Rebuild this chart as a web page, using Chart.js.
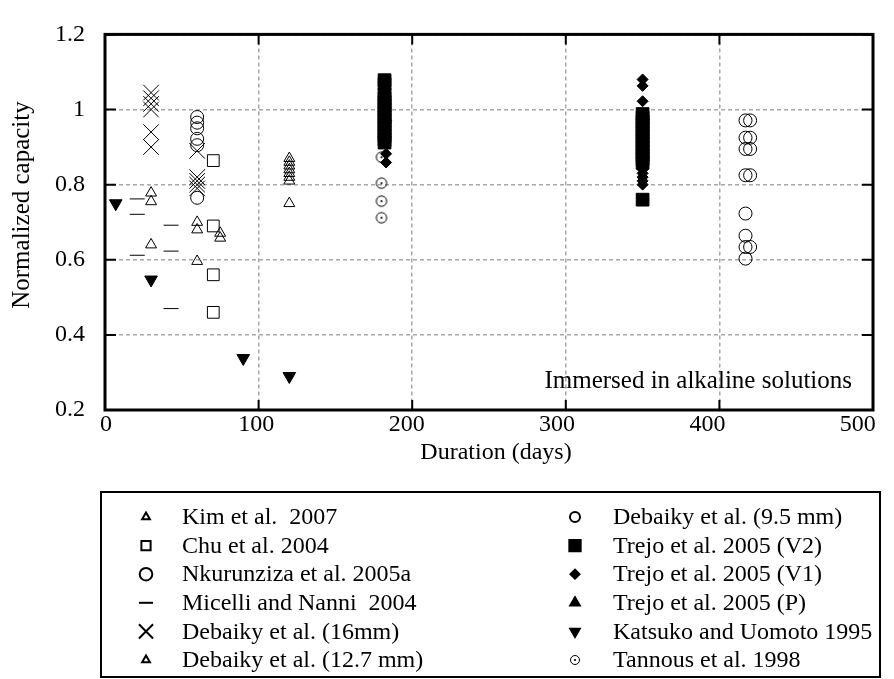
<!DOCTYPE html>
<html>
<head>
<meta charset="utf-8">
<script src="https://cdn.jsdelivr.net/npm/chart.js@4.4.0/dist/chart.umd.min.js"></script>
<style>
    html, body { margin: 0; padding: 0; background: #fff; }
    #wrap { width: 894px; height: 679px; }
</style>
</head>
<body>
<div id="wrap"><canvas id="chart" width="894" height="679"></canvas></div>
<script>
// data: duration (days) and normalized capacity
const xTicks = [0, 100, 200, 300, 400, 500];
const yTicks = [0.2, 0.4, 0.6, 0.8, 1.0, 1.2];

const kimDays = [120, 120, 120, 120, 120, 120, 120, 120];
const kimCapacity = [0.87, 0.86, 0.85, 0.84, 0.83, 0.82, 0.81, 0.75];

const chuDays = [70.5, 70.5, 70.5, 70.5];
const chuCapacity = [0.864, 0.69, 0.56, 0.46];

const nkurunzizaDays = [60, 60, 60, 60, 60, 60];
const nkurunzizaCapacity = [0.98, 0.965, 0.95, 0.922, 0.905, 0.765];

const micelliDays = [21, 21, 21, 43, 43, 43];
const micelliCapacity = [0.762, 0.721, 0.612, 0.692, 0.623, 0.47];

const debaiky16Days = [30, 30, 30, 30, 30, 30, 60, 60, 60, 60, 60];
const debaiky16Capacity = [1.045, 1.03, 1.015, 1.0, 0.94, 0.9, 0.89, 0.82, 0.81, 0.8, 0.79];

const debaiky127Days = [30, 30, 30, 60, 60, 60, 75, 75];
const debaiky127Capacity = [0.778, 0.755, 0.64, 0.70, 0.68, 0.596, 0.671, 0.658];

const debaiky95Days = [417, 420, 417, 420, 417, 420, 417, 420, 417, 417, 417, 420, 417];
const debaiky95Capacity = [0.971, 0.971, 0.925, 0.925, 0.895, 0.895, 0.825, 0.825, 0.723, 0.664, 0.634, 0.634, 0.603];

const trejoV2Days = [182, 182, 182, 182, 182, 182, 182, 182, 182, 182, 182, 182, 182, 182, 182, 182,
    350, 350, 350, 350, 350, 350, 350, 350, 350, 350, 350, 350, 350, 350, 350];
const trejoV2Capacity = [1.078, 1.068, 1.04, 1.03, 1.02, 1.01, 1.0, 0.99, 0.98, 0.97, 0.96, 0.95, 0.94, 0.93, 0.92, 0.912,
    0.988, 0.978, 0.968, 0.958, 0.948, 0.938, 0.928, 0.918, 0.908, 0.898, 0.888, 0.878, 0.868, 0.858, 0.76];

const trejoV1Days = [183, 183, 183, 350, 350, 350, 350, 350, 350, 350, 350, 350];
const trejoV1Capacity = [0.882, 0.859, 0.97, 1.08, 1.063, 1.022, 0.84, 0.83, 0.82, 0.81, 0.80, 0.92];

const trejoPDays = [182, 182, 350, 350];
const trejoPCapacity = [1.053, 0.95, 0.95, 0.90];

const katsukoDays = [7, 30, 90, 120];
const katsukoCapacity = [0.75, 0.547, 0.338, 0.29];

const tannousDays = [180, 180, 180, 180];
const tannousCapacity = [0.873, 0.804, 0.756, 0.712];

const labels = [
    'Kim et al.  2007', 'Chu et al. 2004', 'Nkurunziza et al. 2005a', 'Micelli and Nanni  2004',
    'Debaiky et al. (16mm)', 'Debaiky et al. (12.7 mm)', 'Debaiky et al. (9.5 mm)', 'Trejo et al. 2005 (V2)',
    'Trejo et al. 2005 (V1)', 'Trejo et al. 2005 (P)', 'Katsuko and Uomoto 1995', 'Tannous et al. 1998'
];
const xTitle = 'Duration (days)';
const yTitle = 'Normalized capacity';
const noteText = 'Immersed in alkaline solutions';

const FONT = '"Liberation Serif", "Times New Roman", serif';

function toPoints(xs, ys) {
    return xs.map((x, i) => ({ x: x, y: ys[i] }));
}

function dottedCircle(r) {
    const c = document.createElement('canvas');
    const size = Math.ceil(r * 2 + 3);
    c.width = size;
    c.height = size;
    const g = c.getContext('2d');
    g.strokeStyle = '#000';
    g.lineWidth = 1;
    g.beginPath();
    g.arc(size / 2, size / 2, r, 0, Math.PI * 2);
    g.stroke();
    g.fillStyle = '#000';
    g.beginPath();
    g.arc(size / 2, size / 2, 1.1, 0, Math.PI * 2);
    g.fill();
    return c;
}

const OPEN = 'rgba(0,0,0,0)';
const series = [
    { data: toPoints(kimDays, kimCapacity), style: 'triangle', radius: 6.3, fill: OPEN, legendRadius: 4.5 },
    { data: toPoints(chuDays, chuCapacity), style: 'rect', radius: 8.3, fill: OPEN, legendRadius: 6.5 },
    { data: toPoints(nkurunzizaDays, nkurunzizaCapacity), style: 'circle', radius: 6.5, fill: OPEN, legendRadius: 6.3 },
    { data: toPoints(micelliDays, micelliCapacity), style: 'line', radius: 7.5, fill: OPEN, legendRadius: 7 },
    { data: toPoints(debaiky16Days, debaiky16Capacity), style: 'crossRot', radius: 11, fill: OPEN, legendRadius: 10 },
    { data: toPoints(debaiky127Days, debaiky127Capacity), style: 'triangle', radius: 6.3, fill: OPEN, legendRadius: 4.5 },
    { data: toPoints(debaiky95Days, debaiky95Capacity), style: 'circle', radius: 6.5, fill: OPEN, legendRadius: 5 },
    { data: toPoints(trejoV2Days, trejoV2Capacity), style: 'rect', radius: 9, fill: '#000', legendRadius: 8 },
    { data: toPoints(trejoV1Days, trejoV1Capacity), style: 'rectRot', radius: 5.5, fill: '#000', legendRadius: 4.5 },
    { data: toPoints(trejoPDays, trejoPCapacity), style: 'triangle', radius: 6.5, fill: '#000', legendRadius: 5.5 },
    { data: toPoints(katsukoDays, katsukoCapacity), style: 'triangle', radius: 7.3, fill: '#000', rotation: 180, legendRadius: 5.5 },
    { data: toPoints(tannousDays, tannousCapacity), style: dottedCircle(5.2), fill: OPEN, legendStyle: dottedCircle(4.5) }
];

const datasets = series.map((s, i) => ({
    label: labels[i],
    data: s.data,
    showLine: false,
    pointStyle: s.style,
    pointRadius: s.radius || 6,
    pointHoverRadius: s.radius || 6,
    pointRotation: s.rotation || 0,
    pointBackgroundColor: s.fill,
    pointBorderColor: '#000',
    pointBorderWidth: 1,
    pointHoverBorderWidth: 1
}));

// frame, inner ticks, tick labels, axis titles, note and the boxed two-column legend
const framePlugin = {
    id: 'frame',
    afterDraw(chart) {
        const { ctx, chartArea: a, scales: { x, y } } = chart;
        ctx.save();
        ctx.strokeStyle = '#000';
        ctx.lineWidth = 2;
        ctx.beginPath();
        xTicks.forEach(v => {
            const px = x.getPixelForValue(v);
            ctx.moveTo(px, a.bottom); ctx.lineTo(px, a.bottom - 10);
            ctx.moveTo(px, a.top); ctx.lineTo(px, a.top + 10);
        });
        yTicks.forEach(v => {
            const py = y.getPixelForValue(v);
            ctx.moveTo(a.left, py); ctx.lineTo(a.left + 11, py);
            ctx.moveTo(a.right, py); ctx.lineTo(a.right - 11, py);
        });
        ctx.stroke();

        ctx.lineWidth = 3;
        ctx.strokeRect(a.left, a.top, a.right - a.left, a.bottom - a.top);

        ctx.fillStyle = '#000';
        ctx.font = '24px ' + FONT;
        ctx.textBaseline = 'middle';

        // x tick labels sit slightly left of their grid lines in the source figure
        ctx.textAlign = 'center';
        xTicks.forEach(v => {
            ctx.fillText(String(v), x.getPixelForValue(v * 0.979) + 1, a.bottom + 15);
        });

        ctx.fillText(xTitle, 496, 453);
        ctx.save();
        ctx.translate(22, 205);
        ctx.rotate(-Math.PI / 2);
        ctx.font = '25px ' + FONT;
        ctx.fillText(yTitle, 0, 0);
        ctx.restore();

        ctx.textAlign = 'right';
        ctx.font = '25px ' + FONT;
        ctx.fillText(noteText, a.right - 21, y.getPixelForValue(0.277));

        // legend box
        ctx.font = '24px ' + FONT;
        ctx.lineWidth = 2;
        ctx.strokeRect(101, 492, 779, 185);
        ctx.textAlign = 'left';
        series.forEach((s, i) => {
            const col = i < 6 ? 0 : 1;
            const row = i % 6;
            const my = 517 + row * 28.6;
            const mx = col === 0 ? 146 : 575;
            const tx = col === 0 ? 182 : 613;
            ctx.fillStyle = s.fill;
            ctx.strokeStyle = '#000';
            Chart.helpers.drawPoint(ctx, {
                pointStyle: s.legendStyle || s.style,
                radius: s.legendRadius || 5,
                rotation: s.rotation || 0,
                borderWidth: 1
            }, mx, my);
            ctx.fillStyle = '#000';
            ctx.fillText(labels[i], tx, my + 1);
        });
        ctx.restore();
    }
};

new Chart(document.getElementById('chart'), {
    type: 'scatter',
    data: { datasets: datasets },
    options: {
        responsive: false,
        animation: false,
        events: [],
        layout: { padding: { left: 0, top: 26, right: 21, bottom: 209 } },
        plugins: {
            legend: { display: false },
            tooltip: { enabled: false }
        },
        scales: {
            x: {
                type: 'linear',
                min: 0,
                max: 500,
                afterFit: s => { s.height = 60; },
                afterBuildTicks: s => { s.ticks = xTicks.map(v => ({ value: v })); },
                ticks: { display: false },
                grid: { color: '#a8a8a8', lineWidth: 1.5, drawTicks: false },
                border: { display: false, dash: [4, 3] }
            },
            y: {
                type: 'linear',
                min: 0.2,
                max: 1.2,
                afterFit: s => { s.width = 105; },
                afterBuildTicks: s => { s.ticks = yTicks.map(v => ({ value: v })); },
                ticks: { color: '#000', font: { family: FONT, size: 24 }, padding: 20, callback: v => String(+v.toFixed(1)) },
                grid: { color: '#a8a8a8', lineWidth: 1.5, drawTicks: false },
                border: { display: false, dash: [4, 3] }
            }
        }
    },
    plugins: [framePlugin]
});
</script>
</body>
</html>
